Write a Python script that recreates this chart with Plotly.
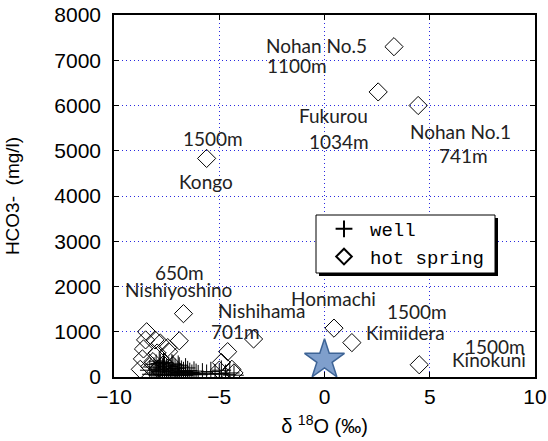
import plotly.graph_objects as go

# Well samples (δ18O ‰, HCO3- mg/l)
well_x = [-8.3, -8.2, -8.1, -8.0, -8.0, -7.9, -7.9, -7.8, -7.8, -7.7, -7.7, -7.6, -7.6, -7.5,
          -7.5, -7.4, -7.4, -7.3, -7.3, -7.2, -7.2, -7.1, -7.1, -7.0, -7.0, -6.9, -6.9, -6.8,
          -6.8, -6.7, -6.7, -6.6, -6.6, -6.5, -6.5, -6.4, -6.3, -6.2, -6.1, -6.0, -5.8, -5.6,
          -5.4, -5.2, -5.0, -4.9, -4.7, -4.5, -4.3, -7.65, -7.25, -6.95, -7.85]
well_y = [150, 60, 220, 90, 280, 40, 170, 120, 300, 60, 200, 140, 250, 30,
          180, 90, 230, 50, 160, 110, 270, 70, 190, 40, 130, 100, 220, 60,
          150, 30, 120, 80, 200, 50, 140, 100, 60, 130, 80, 50, 90, 60,
          120, 70, 80, 150, 60, 90, 40, 320, 290, 260, 350]

# Hot spring samples
spring_x = [3.3, 2.55, 4.45, -5.6, 0.45, 1.3, 4.5, -3.37, -6.7,
            -8.45, -8.5, -8.05, -7.8, -6.9, -8.6, -7.95, -7.4, -7.45, -8.65, -8.15,
            -8.75, -8.3, -7.9, -7.6, -7.2, -4.6, -4.9, -4.4, -4.3, -5.0]
spring_y = [7300, 6300, 6000, 4830, 1080, 760, 270, 840, 1400,
            1000, 820, 820, 750, 800, 620, 530, 560, 650, 400, 340,
            170, 230, 180, 300, 250, 560, 320, 170, 90, 150]

# Reference point (seawater)
ref_x = [0]
ref_y = [380]

# Site labels: (text, x, y)
labels = [
    ("Nohan No.5", -0.38, 7330), ("1100m", -1.29, 6890),
    ("Fukurou", 0.43, 5780), ("1034m", 0.71, 5200),
    ("Nohan No.1", 6.48, 5420), ("741m", 6.62, 4890),
    ("1500m", -5.29, 5270), ("Kongo", -5.62, 4310),
    ("650m", -6.9, 2310), ("Nishiyoshino", -6.95, 1930),
    ("Nishihama", -3.0, 1470), ("701m", -4.24, 1000),
    ("Honmachi", 0.43, 1730),
    ("1500m", 4.38, 1440), ("Kimiidera", 3.86, 980),
    ("1500m", 8.1, 670), ("Kinokuni", 7.81, 380),
]

fig = go.Figure()
fig.add_trace(go.Scatter(
    x=well_x, y=well_y, mode="markers", name="well",
    marker=dict(symbol="cross-thin-open", size=14, color="black",
                line=dict(color="black", width=1)),
))
fig.add_trace(go.Scatter(
    x=spring_x, y=spring_y, mode="markers", name="hot spring",
    marker=dict(symbol="diamond-open", size=14, color="black",
                line=dict(color="black", width=1)),
))
fig.add_trace(go.Scatter(
    x=ref_x, y=ref_y, mode="markers", showlegend=False,
    marker=dict(symbol="star", size=30, color="#7f9fcc",
                line=dict(color="#3e6496", width=1.5)),
))

for text, lx, ly in labels:
    fig.add_annotation(x=lx, y=ly, xref="x", yref="y", text=text, showarrow=False,
                       font=dict(family="Lato", size=19, color="#222222"))

# legend frame with a drop shadow (plot-area pixels -> paper fractions)
px0, px1, py0, py1 = 114, 535, 15, 377
def xp(p):
    return (p - px0) / (px1 - px0)
def yp(p):
    return (py1 - p) / (py1 - py0)
fig.add_shape(type="rect", xref="paper", yref="paper",
              x0=xp(319), x1=xp(498), y0=yp(276), y1=yp(218),
              fillcolor="black", line=dict(width=0), layer="above")
fig.add_shape(type="rect", xref="paper", yref="paper",
              x0=xp(316), x1=xp(495), y0=yp(273), y1=yp(215),
              fillcolor="white", line=dict(color="black", width=1), layer="above")

narrow = "Liberation Sans Narrow, Liberation Sans, Arial, sans-serif"
tick_font = dict(family=narrow, size=21, color="black")
axis_common = dict(
    showline=True, linecolor="black", linewidth=1.5, mirror="ticks",
    ticks="inside", ticklen=5, tickcolor="black",
    showgrid=True, gridcolor="#2a2ae0", gridwidth=1, griddash="1px,3px",
    zeroline=False, tickfont=tick_font, automargin=False,
)
fig.update_xaxes(range=[-10, 10], dtick=5, tick0=-10,
                 title=dict(text="δ <sup>18</sup>O (‰)",
                            font=dict(family=narrow, size=20, color="black"),
                            standoff=12),
                 **axis_common)
fig.update_yaxes(range=[0, 8000], dtick=1000,
                 title=dict(text="HCO3-  (mg/l)",
                            font=dict(family=narrow, size=19, color="black"),
                            standoff=30),
                 ticklabelstandoff=7,
                 **axis_common)

fig.update_layout(
    template="none",
    font=dict(family=narrow),
    width=548, height=441,
    margin=dict(l=114, r=13, t=15, b=64, autoexpand=False),
    paper_bgcolor="white", plot_bgcolor="white",
    showlegend=True,
    legend=dict(x=xp(318), y=yp(210), xanchor="left", yanchor="top",
                bgcolor="rgba(0,0,0,0)", borderwidth=0,
                font=dict(family="Liberation Mono", size=19, color="black"),
                itemsizing="constant", itemwidth=42, tracegroupgap=0),
)

fig.write_html("out.html")
